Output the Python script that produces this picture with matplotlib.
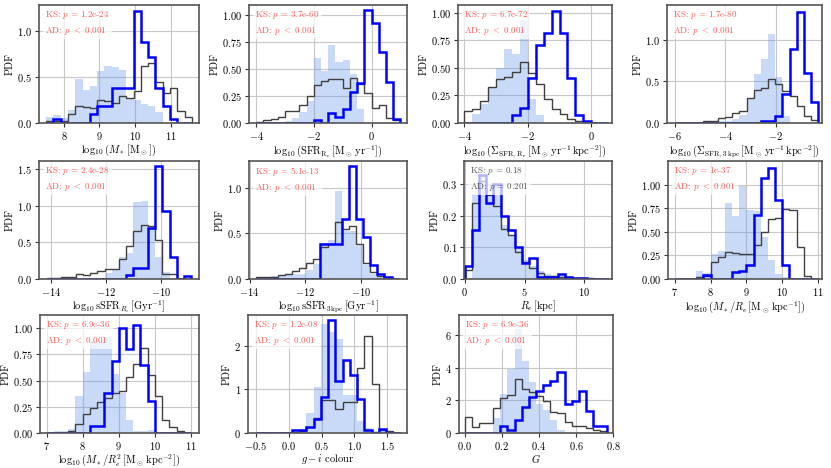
import numpy as np
import matplotlib.pyplot as plt

plt.rcParams['font.family'] = 'serif'
plt.rcParams['font.serif'] = ['cmr10']
plt.rcParams['mathtext.fontset'] = 'cm'
plt.rcParams['axes.formatter.use_mathtext'] = True

# ---- data (PDF per bin) ----
# panel 1: log10 M*
mstar_edges = np.linspace(7.5, 11.6, 21)
mstar_fill = [0.07, 0.09, 0.05, 0.14, 0.48, 0.36, 0.40, 0.56, 0.62, 0.61, 0.58, 0.27, 0.25, 0.21, 0.18, 0.12, 0, 0, 0, 0]
mstar_grey = [0.02, 0.02, 0.02, 0.10, 0.19, 0.17, 0.16, 0.25, 0.24, 0.22, 0.29, 0.27, 0.35, 0.62, 0.65, 0.45, 0.33, 0.38, 0.13, 0.06]
mstar_blue = [0, 0.04, 0, 0, 0, 0, 0.10, 0.18, 0.19, 0.38, 0.38, 0.38, 1.22, 0.88, 0.72, 0.38, 0.18, 0.04, 0, 0]

# panel 2: log10 SFR_Re
sfr_edges = np.linspace(-4.0, 1.0, 21)
sfr_fill = [0, 0, 0, 0, 0.02, 0.05, 0.10, 0.20, 0.60, 0.48, 0.72, 0.56, 0.58, 0.45, 0.13, 0, 0, 0, 0, 0]
sfr_grey = [0.01, 0.03, 0.04, 0.06, 0.11, 0.11, 0.17, 0.25, 0.35, 0.39, 0.41, 0.41, 0.32, 0.42, 0.36, 0.28, 0.14, 0.17, 0.05, 0.03]
sfr_blue = [0, 0, 0, 0, 0, 0, 0, 0, 0.03, 0, 0.09, 0.06, 0.13, 0.29, 0.37, 1.04, 0.92, 0.66, 0.38, 0.04]

# panel 3: log10 Sigma_SFR,Re
ssfr_re_edges = np.linspace(-4.0, 0.5, 19)
ssfr_re_fill = [0, 0.08, 0.17, 0.32, 0.50, 0.67, 0.63, 0.93, 0.22, 0.07, 0, 0, 0, 0, 0, 0, 0, 0]
ssfr_re_grey = [0.11, 0.13, 0.20, 0.33, 0.40, 0.42, 0.46, 0.55, 0.45, 0.35, 0.22, 0.13, 0.08, 0.04, 0.02, 0, 0, 0]
ssfr_re_blue = [0, 0, 0, 0, 0, 0, 0.07, 0.14, 0.41, 0.71, 0.82, 1.02, 0.82, 0.41, 0.07, 0.02, 0, 0]

# panel 4: log10 Sigma_SFR,3kpc
s3_edges = np.linspace(-6.0, -0.3, 21)
s3_fill = [0, 0, 0, 0, 0, 0, 0.03, 0.03, 0.05, 0.10, 0.30, 0.59, 0.77, 1.07, 0.55, 0.08, 0, 0, 0, 0]
s3_grey = [0, 0, 0, 0, 0.02, 0.03, 0.06, 0.07, 0.12, 0.15, 0.30, 0.40, 0.42, 0.53, 0.47, 0.38, 0.33, 0.20, 0.08, 0.04]
s3_blue = [0, 0, 0, 0, 0, 0, 0, 0, 0, 0, 0, 0, 0.03, 0.03, 0.08, 0.35, 0.89, 1.34, 0.60, 0.25]

# panel 5: log10 sSFR_Re
ssfr_edges = np.linspace(-14.16, -8.9, 21)
ssfr_fill = [0, 0, 0, 0, 0, 0, 0, 0, 0.08, 0.13, 0.30, 0.35, 1.05, 1.07, 0.70, 0.30, 0.09, 0.02, 0, 0]
ssfr_grey = [0.01, 0.01, 0.03, 0.03, 0.07, 0.06, 0.08, 0.11, 0.13, 0.14, 0.27, 0.45, 0.65, 0.73, 0.72, 0.53, 0.07, 0.07, 0, 0]
ssfr_blue = [0, 0, 0, 0, 0, 0, 0, 0, 0, 0, 0, 0.06, 0.15, 0.15, 0.70, 1.54, 0.93, 0.30, 0, 0.04]

# panel 6: log10 sSFR_3kpc
ssfr3_edges = np.linspace(-13.75, -8.63, 21)
ssfr3_fill = [0, 0, 0.03, 0.03, 0.06, 0.05, 0.05, 0.10, 0.16, 0.39, 0.43, 0.96, 0.53, 0.52, 0.36, 0.15, 0.05, 0.02, 0, 0]
ssfr3_grey = [0.02, 0.02, 0.02, 0.04, 0.06, 0.09, 0.12, 0.17, 0.22, 0.35, 0.38, 0.62, 0.55, 0.58, 0.38, 0.17, 0.08, 0.03, 0.02, 0]
ssfr3_blue = [0, 0, 0, 0, 0, 0, 0, 0, 0, 0.38, 0.38, 0.38, 0.66, 1.23, 0.66, 0.46, 0.15, 0.05, 0.02, 0]

# panel 7: Re [kpc]
re_edges = np.linspace(0.0, 12.0, 21)
re_fill = [0, 0.27, 0.33, 0.265, 0.30, 0.17, 0.135, 0.10, 0.06, 0.04, 0.025, 0.015, 0.01, 0.008, 0.005, 0.004, 0.003, 0.002, 0.001, 0.001]
re_grey = [0.03, 0.24, 0.31, 0.265, 0.23, 0.16, 0.14, 0.085, 0.055, 0.035, 0.02, 0.01, 0.008, 0.005, 0.005, 0.003, 0.002, 0.002, 0.001, 0.001]
re_blue = [0.04, 0.155, 0.33, 0.24, 0.30, 0.20, 0.155, 0.10, 0.05, 0.065, 0.005, 0.005, 0.005, 0.015, 0.005, 0.003, 0.003, 0, 0, 0]

# panel 8: log10 M*/Re
mre_edges = np.linspace(7.0, 11.0, 21)
mre_fill = [0, 0, 0, 0.08, 0.06, 0.27, 0.30, 0.81, 0.67, 0.99, 0.73, 0.72, 0.45, 0.20, 0.05, 0.02, 0, 0, 0, 0]
mre_grey = [0, 0, 0, 0.02, 0.03, 0.18, 0.23, 0.29, 0.28, 0.26, 0.27, 0.36, 0.50, 0.64, 0.65, 0.74, 0.73, 0.34, 0.03, 0]
mre_blue = [0, 0, 0, 0, 0.04, 0, 0, 0, 0.07, 0.08, 0.15, 0.68, 1.07, 1.18, 0.84, 0.15, 0, 0, 0, 0]

# panel 9: log10 M*/Re^2
mre2_edges = np.linspace(7.0, 11.0, 21)
mre2_fill = [0, 0.02, 0.02, 0.04, 0.35, 0.58, 0.88, 0.88, 0.92, 0.56, 0.38, 0.12, 0.02, 0.02, 0.03, 0.01, 0, 0, 0, 0]
mre2_grey = [0, 0, 0, 0.02, 0.09, 0.18, 0.24, 0.30, 0.33, 0.38, 0.40, 0.53, 0.66, 0.81, 0.55, 0.35, 0.12, 0.06, 0.02, 0]
mre2_blue = [0, 0, 0, 0, 0, 0, 0.07, 0.07, 0.38, 0.69, 1.00, 0.80, 1.03, 0.65, 0.31, 0, 0, 0, 0, 0]

# panel 10: g - i colour
gi_edges = np.linspace(-0.5, 1.7, 21)
gi_fill = [0, 0, 0, 0, 0.02, 0.03, 0.10, 0.45, 1.05, 2.50, 2.30, 2.15, 0.88, 0.88, 0.27, 0.12, 0.05, 0.05, 0.05, 0]
gi_grey = [0, 0, 0, 0, 0, 0.03, 0.05, 0.13, 0.35, 0.75, 0.75, 0.56, 0.70, 0.72, 1.48, 2.22, 1.12, 0.07, 0.04, 0]
gi_blue = [0, 0, 0, 0, 0, 0.07, 0.07, 0.13, 0.33, 0.83, 2.58, 1.18, 1.68, 1.32, 0.77, 0.07, 0, 0.10, 0, 0]

# panel 11: G
g_edges = np.linspace(0.0, 0.77, 21)
g_fill = [0, 0, 0, 0, 0.90, 2.40, 3.90, 6.40, 4.40, 3.15, 1.80, 1.40, 0.80, 0.20, 0, 0, 0, 0, 0, 0]
g_grey = [1.0, 0.35, 0.62, 0.60, 1.55, 2.15, 2.35, 3.30, 2.70, 2.50, 2.25, 1.95, 1.30, 1.20, 0.65, 0.40, 0.45, 0.30, 0.20, 0.15]
g_blue = [0, 0, 0, 0, 0, 0.40, 0.20, 0.80, 1.60, 2.20, 2.60, 2.95, 3.20, 3.75, 1.80, 1.95, 2.60, 1.35, 0.45, 0.45]

ks_p = ['1.2e-24', '3.7e-60', '6.7e-72', '1.7e-80', '2.4e-28', '5.1e-13', '0.18', '1e-37', '6.9e-36', '1.2e-08', '6.9e-36']
ad_p = ['$<$ 0.001'] * 6 + ['= 0.201'] + ['$<$ 0.001'] * 4

xlabels = [
    r'$\log_{10}(M_*\,[\mathrm{M_\odot}])$',
    r'$\log_{10}(\mathrm{SFR}_{\mathrm{R_e}}\,[\mathrm{M_\odot\,yr^{-1}}])$',
    r'$\log_{10}(\Sigma_{\mathrm{SFR,\,R_e}}\,[\mathrm{M_\odot\,yr^{-1}\,kpc^{-2}}])$',
    r'$\log_{10}(\Sigma_{\mathrm{SFR,\,3\,kpc}}\,[\mathrm{M_\odot\,yr^{-1}\,kpc^{-2}}])$',
    r'$\log_{10}\mathrm{sSFR}_{R_e}\,[\mathrm{Gyr^{-1}}]$',
    r'$\log_{10}\mathrm{sSFR}_{\mathrm{3\,kpc}}\,[\mathrm{Gyr^{-1}}]$',
    r'$R_e\,[\mathrm{kpc}]$',
    r'$\log_{10}(M_*/R_e\,[\mathrm{M_\odot\,kpc^{-1}}])$',
    r'$\log_{10}(M_*/R_e^2\,[\mathrm{M_\odot\,kpc^{-2}}])$',
    r'$g-i$ colour',
    r'$G$',
]

panels = [
    (mstar_edges, mstar_fill, mstar_grey, mstar_blue),
    (sfr_edges, sfr_fill, sfr_grey, sfr_blue),
    (ssfr_re_edges, ssfr_re_fill, ssfr_re_grey, ssfr_re_blue),
    (s3_edges, s3_fill, s3_grey, s3_blue),
    (ssfr_edges, ssfr_fill, ssfr_grey, ssfr_blue),
    (ssfr3_edges, ssfr3_fill, ssfr3_grey, ssfr3_blue),
    (re_edges, re_fill, re_grey, re_blue),
    (mre_edges, mre_fill, mre_grey, mre_blue),
    (mre2_edges, mre2_fill, mre2_grey, mre2_blue),
    (gi_edges, gi_fill, gi_grey, gi_blue),
    (g_edges, g_fill, g_grey, g_blue),
]

# layout (pixel boxes: left, top, right, bottom) and axis limits
boxes = [(39, 5, 199, 123), (249, 5, 407, 123), (458, 5, 612, 123), (667, 5, 822, 123),
         (39, 161, 199, 279), (249, 161, 407, 279), (464, 161, 612, 279), (668, 161, 822, 279),
         (40, 315, 199, 433), (248, 315, 407, 433), (459, 315, 613, 433)]
xlims = [(7.3, 11.8), (-4.25, 1.23), (-4.19, 0.65), (-6.3, -0.16), (-14.44, -8.62), (-14.02, -8.33),
         (-0.05, 12.3), (6.81, 11.11), (6.82, 11.22), (-0.62, 1.80), (-0.03, 0.80)]
ylims = [1.283, 1.09, 1.07, 1.42, 1.61, 1.29, 0.374, 1.25, 1.126, 2.70, 7.24]
xticks = {7: [7, 8, 9, 10, 11], 8: [7, 8, 9, 10, 11], 10: [0.0, 0.2, 0.4, 0.6, 0.8]}
yticks = [[0, 0.5, 1.0], [0, 0.25, 0.5, 0.75, 1.0], [0, 0.25, 0.5, 0.75, 1.0], [0, 0.5, 1.0],
          [0, 0.5, 1.0, 1.5], [0, 0.5, 1.0], [0, 0.1, 0.2, 0.3], [0, 0.25, 0.5, 0.75, 1.0],
          [0, 0.25, 0.5, 0.75, 1.0], [0, 1, 2], [0, 2, 4, 6]]

W, H = 831, 468
fig = plt.figure(figsize=(W / 100, H / 100), dpi=100)

for i, (edges, fill, grey, blue) in enumerate(panels):
    l, t, r, b = boxes[i]
    ax = fig.add_axes([l / W, 1 - b / H, (r - l) / W, (b - t) / H])
    ax.grid(True, color='#c8c8c8', lw=0.8)
    ax.set_axisbelow(True)
    ax.stairs(fill, edges, fill=True, color='cornflowerblue', alpha=0.35, lw=0)
    ax.stairs(grey, edges, color='#404040', lw=1.0)
    ax.stairs(blue, edges, color='blue', lw=1.8)
    ax.set_xlim(*xlims[i])
    ax.set_ylim(0, ylims[i])
    ax.set_yticks(yticks[i])
    if i in xticks:
        ax.set_xticks(xticks[i])
    ax.set_xlabel(xlabels[i], fontsize=7.5, labelpad=0.5 if i < 8 else 0)
    ax.set_ylabel('PDF', fontsize=7.5, labelpad=2)
    ax.tick_params(labelsize=7.5, length=3, width=0.8, pad=2, color='#333333')
    for sp in ax.spines.values():
        sp.set_color('#555555')
        sp.set_linewidth(1.2)
    col = 'black' if ad_p[i].startswith('=') else 'red'
    ax.text(0.04, 0.97, 'KS: $p$ = ' + ks_p[i] + '\nAD: $p$ ' + ad_p[i],
            transform=ax.transAxes, va='top', ha='left', fontsize=6.5,
            color=col, alpha=0.65, linespacing=1.5,
            bbox=dict(facecolor='white', edgecolor='none', alpha=0.7, pad=1.5))

fig.savefig('out.png', dpi=100)
